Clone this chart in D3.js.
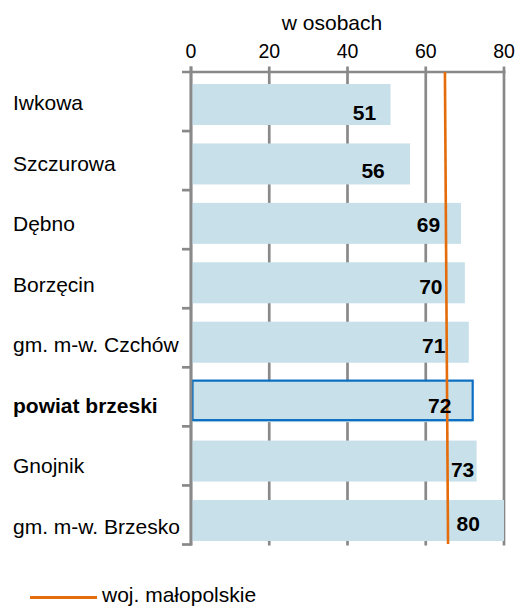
<!DOCTYPE html>
<html><head><meta charset="utf-8">
<script src="https://cdn.jsdelivr.net/npm/d3@7"></script>
<style>
html,body{margin:0;padding:0;background:#fff;}
svg{display:block;font-family:Arial,"Liberation Sans",sans-serif;}
</style></head>
<body>
<svg id="c" width="519" height="607"></svg>
<script>
// ---- data ----
const categories = ["Iwkowa","Szczurowa","Dębno","Borzęcin","gm. m-w. Czchów","powiat brzeski","Gnojnik","gm. m-w. Brzesko"];
const values = [51,56,69,70,71,72,73,80];
const wojValues = [64.9,65.7]; // woj. małopolskie line: top end, bottom end
const xTicks = [0,20,40,60,80];
const axisTitle = "w osobach";
const legendLabel = "woj. małopolskie";
const highlight = "powiat brzeski";

// ---- drawing ----
const svg = d3.select("#c");
const grid = "#898989";
const x = d3.scaleLinear().domain([0,80]).range([191,504]);
const yTick = d3.scaleBand().domain(categories).range([72,544.5]);
const yBar = d3.scaleBand().domain(categories).range([74.8,550.2]).paddingInner(0.31).paddingOuter(0.155);
const yLab = d3.scalePoint().domain(categories).range([110,533.5]);
const yLine = d3.scaleLinear().domain([0,1]).range([72,544]);

// gridlines (incl. tick marks above top axis)
svg.append("g").selectAll("line").data(xTicks).join("line")
  .attr("x1",d=>x(d)).attr("x2",d=>x(d)).attr("y1",66.5).attr("y2",545.5)
  .attr("stroke",grid).attr("stroke-width",2.7);

// top axis line
svg.append("line").attr("x1",182).attr("x2",505.5).attr("y1",72).attr("y2",72)
  .attr("stroke",grid).attr("stroke-width",2.7);

// tick labels
svg.append("g").selectAll("text").data(xTicks).join("text")
  .attr("x",d=>x(d)).attr("y",58).attr("text-anchor","middle")
  .attr("font-size","19.5px").attr("fill","#000").text(d=>d);

// axis title
svg.append("text").attr("x",332).attr("y",30).attr("text-anchor","middle")
  .attr("font-size","21px").attr("fill","#000").text(axisTitle);

// bars
svg.append("g").selectAll("rect").data(categories).join("rect")
  .attr("x",x(0)+1).attr("y",d=>yBar(d))
  .attr("width",(d,i)=>x(values[i])-x(0)-1).attr("height",yBar.bandwidth())
  .attr("fill","#c8e0ea");

// highlight border
const hi = categories.indexOf(highlight);
svg.append("rect").attr("x",x(0)+1.5).attr("y",yBar(highlight)-0.5)
  .attr("width",x(values[hi])-x(0)-1.5).attr("height",yBar.bandwidth()-1.5)
  .attr("fill","none").attr("stroke","#0a6fc2").attr("stroke-width",2.2);

// left axis
svg.append("line").attr("x1",x(0)).attr("x2",x(0)).attr("y1",66.5).attr("y2",545.5)
  .attr("stroke",grid).attr("stroke-width",2.7);
svg.append("g").selectAll("line").data(categories).join("line")
  .attr("x1",182).attr("x2",x(0)).attr("y1",d=>yTick(d)+yTick.bandwidth()).attr("y2",d=>yTick(d)+yTick.bandwidth())
  .attr("stroke",grid).attr("stroke-width",2.7);

// woj. line
svg.append("path")
  .attr("d",d3.line().x(d=>x(d)).y((d,i)=>yLine(i))(wojValues))
  .attr("stroke","#e46c0a").attr("stroke-width",2.6).attr("fill","none");

// value labels (manually nudged like the original)
const lblDx = [-26,-37,-32.5,-34,-35,-33,-14,-35.7];
const lblDy = [7.5,7,0.7,3.7,3.3,4,8.5,3.5];
svg.append("g").selectAll("text").data(values).join("text")
  .attr("x",(d,i)=>x(d)+lblDx[i])
  .attr("y",(d,i)=>yBar(categories[i])+yBar.bandwidth()/2+lblDy[i]+7.5)
  .attr("text-anchor","middle").attr("font-size","21px").attr("font-weight","bold")
  .attr("fill","#000").text(d=>d);

// category labels
svg.append("g").selectAll("text").data(categories).join("text")
  .attr("x",13).attr("y",d=>yLab(d))
  .attr("font-size","21px").attr("font-weight",d=>d===highlight?"bold":"normal")
  .attr("fill","#000").text(d=>d);

// legend
svg.append("line").attr("x1",30).attr("x2",97).attr("y1",597.5).attr("y2",597.5)
  .attr("stroke","#e46c0a").attr("stroke-width",2.8);
svg.append("text").attr("x",102).attr("y",602).attr("font-size","21px")
  .attr("fill","#000").text(legendLabel);
</script>
</body></html>
